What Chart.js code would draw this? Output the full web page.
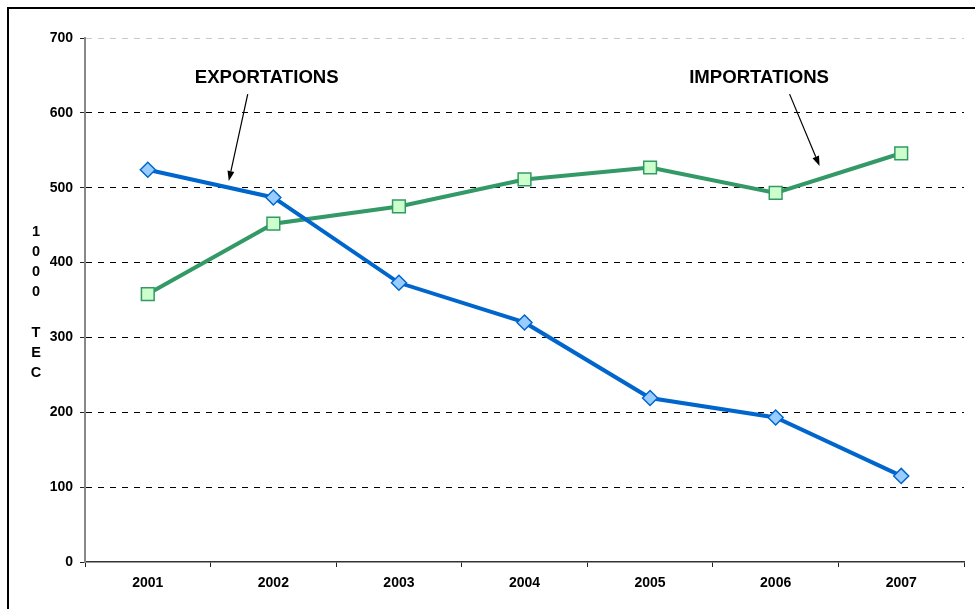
<!DOCTYPE html>
<html>
<head>
<meta charset="utf-8">
<script src="https://cdn.jsdelivr.net/npm/chart.js@4/dist/chart.umd.min.js"></script>
<style>
  html, body { margin: 0; padding: 0; background: #fff; overflow: hidden; }
  #wrap { position: relative; width: 975px; height: 609px; }
  #frame { position: absolute; left: 7px; top: 7px; width: 1000px; height: 700px; border: 2px solid #000; box-sizing: border-box; pointer-events: none; }
  canvas { position: absolute; left: 0; top: 0; }
</style>
</head>
<body>
<div id="wrap">
  <canvas id="c" width="975" height="609"></canvas>
  <div id="frame"></div>
</div>
<script>
const years = ['2001', '2002', '2003', '2004', '2005', '2006', '2007'];
const exportations = [524, 487, 373, 320, 219, 193, 115];
const importations = [358, 452, 475, 511, 527, 493, 546];
const yTicks = [0, 100, 200, 300, 400, 500, 600, 700];
const yTitleChars = ['1', '0', '0', '0', '', 'T', 'E', 'C'];
const labelExport = 'EXPORTATIONS';
const labelImport = 'IMPORTATIONS';

const FONT = '"Liberation Sans", Arial, Helvetica, sans-serif';

function arrow(ctx, x1, y1, x2, y2) {
  const ang = Math.atan2(y2 - y1, x2 - x1);
  const len = 10, half = 3.5;
  const bx = x2 - Math.cos(ang) * len, by = y2 - Math.sin(ang) * len;
  ctx.beginPath();
  ctx.moveTo(x1, y1);
  ctx.lineTo(bx, by);
  ctx.lineWidth = 1.2;
  ctx.strokeStyle = '#000';
  ctx.stroke();
  ctx.beginPath();
  ctx.moveTo(x2, y2);
  ctx.lineTo(bx + Math.sin(ang) * half, by - Math.cos(ang) * half);
  ctx.lineTo(bx - Math.sin(ang) * half, by + Math.cos(ang) * half);
  ctx.closePath();
  ctx.fillStyle = '#000';
  ctx.fill();
}

const annotations = {
  id: 'annotations',
  afterDatasetsDraw(chart) {
    const ctx = chart.ctx;
    const xs = chart.scales.x, ys = chart.scales.y;
    const X = v => xs.getPixelForValue(v);
    const Y = v => ys.getPixelForValue(v);
    ctx.save();
    ctx.fillStyle = '#000';
    ctx.font = 'bold 18.6px ' + FONT;
    ctx.textAlign = 'center';
    ctx.textBaseline = 'middle';
    ctx.fillText(labelExport, X(0.947), Y(647));
    ctx.fillText(labelImport, X(4.868), Y(647));
    arrow(ctx, X(0.796), Y(625), X(0.645), Y(509));
    arrow(ctx, X(5.111), Y(625), X(5.35), Y(529));
    // vertical stacked y-axis title
    ctx.font = 'bold 14.5px ' + FONT;
    const cx = 36, startY = Y(441), step = 20.2;
    yTitleChars.forEach((ch, i) => { if (ch) ctx.fillText(ch, cx, startY + i * step); });
    ctx.restore();
  }
};

new Chart(document.getElementById('c'), {
  type: 'line',
  data: {
    labels: years,
    datasets: [
      {
        label: labelExport,
        data: exportations,
        borderColor: '#0066CC',
        borderWidth: 4,
        backgroundColor: '#99CCFF',
        pointStyle: 'rectRot',
        pointRadius: 7.5,
        pointBorderWidth: 1.5,
        pointBorderColor: '#0066CC',
        pointBackgroundColor: '#99CCFF',
        tension: 0,
        order: 0
      },
      {
        label: labelImport,
        data: importations,
        borderColor: '#339966',
        borderWidth: 4,
        backgroundColor: '#CCFFCC',
        pointStyle: 'rect',
        pointRadius: 9,
        pointBorderWidth: 1.5,
        pointBorderColor: '#339966',
        pointBackgroundColor: '#CCFFCC',
        tension: 0,
        order: 1
      }
    ]
  },
  options: {
    responsive: false,
    animation: false,
    events: [],
    layout: { padding: { left: 35, right: 11, top: 38, bottom: 0 } },
    plugins: { legend: { display: false }, tooltip: { enabled: false }, title: { display: false } },
    scales: {
      x: {
        offset: true,
        grid: { offset: true, drawOnChartArea: false, drawTicks: true, tickLength: 5, tickColor: '#222', tickWidth: 1 },
        border: { display: true, color: '#333', width: 1.5 },
        ticks: { color: '#000', font: { family: FONT, size: 14, weight: 'bold' }, padding: 8, maxRotation: 0 },
        afterFit(scale) { scale.height = 47; }
      },
      y: {
        min: 0, max: 700,
        afterBuildTicks(scale) { scale.ticks = yTicks.map(v => ({ value: v })); },
        grid: {
          color: c => (c.tick && c.tick.value === 700) ? '#c8c8c8' : (c.tick && c.tick.value === 0 ? 'rgba(0,0,0,0)' : '#000'),
          lineWidth: 1,
          drawTicks: true, tickLength: 5, tickColor: '#222', tickWidth: 1
        },
        border: { display: true, color: '#888', width: 2, dash: [6, 6] },
        ticks: { color: '#000', font: { family: FONT, size: 14, weight: 'bold' }, padding: 7 },
        afterFit(scale) { scale.width = 50; }
      }
    }
  },
  plugins: [annotations]
});
</script>
</body>
</html>
